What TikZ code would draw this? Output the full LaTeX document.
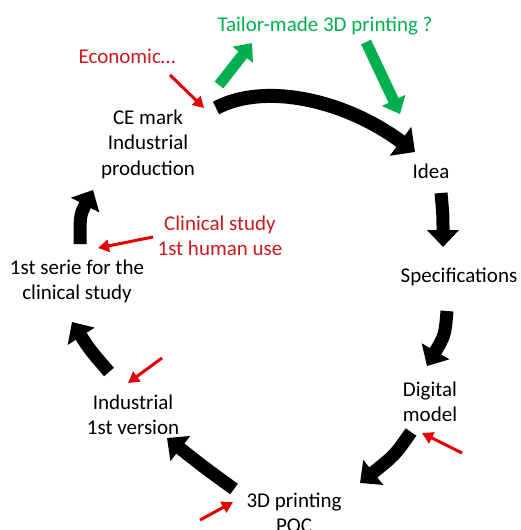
\documentclass[tikz,border=0pt]{standalone}
\usepackage{fontspec}
\setmainfont{Carlito}
\usetikzlibrary{arrows.meta}
\definecolor{ogreen}{RGB}{0,176,80}
\definecolor{otxtred}{RGB}{200,25,30}
\definecolor{oarrred}{RGB}{228,0,0}
\newcommand\mlines[1]{\begin{tabular}[t]{@{}c@{}}#1\end{tabular}}
\begin{document}
\begin{tikzpicture}[x=1pt,y=-1pt,
  lbl/.style={inner sep=0pt, anchor=base, font=\fontsize{21}{25.5}\selectfont},
  blk/.style={draw=black, line width=13pt, -{Triangle[width=31pt,length=17pt]}},
  blkbig/.style={draw=black, line width=14pt, -{Triangle[width=35pt,length=18pt]}},
  grn/.style={draw=ogreen, line width=11pt, -{Triangle[width=25pt,length=15pt]}},
  rdar/.style={draw=oarrred, line width=3pt, -{Triangle[width=12pt,length=11pt]}}]
\useasboundingbox (0,0) rectangle (521,530);
% labels
\node[lbl, text=ogreen] (tailor) at (325,31) {Tailor-made 3D printing ?};
\node[lbl, text=otxtred] (econ) at (127,63) {Economic\ldots};
\node[lbl] (ce) at (148,124) {\mlines{CE mark\\Industrial\\production}};
\node[lbl] (idea) at (431,178) {Idea};
\node[lbl, text=otxtred] (clin) at (220,230) {\mlines{Clinical study\\1st human use}};
\node[lbl] (serie) at (77,274) {\mlines{1st serie for the\\clinical study}};
\node[lbl] (spec) at (459,282) {Specifications};
\node[lbl] (digi) at (430,396) {\mlines{Digital\\model}};
\node[lbl] (indus) at (133,409) {\mlines{Industrial\\1st version}};
\node[lbl] (print) at (294,507) {\mlines{3D printing\\POC}};
% arrow end points
\coordinate (a1s) at (216,108); \coordinate (a1e) at (415,152);
\coordinate (a2s) at (441,193); \coordinate (a2e) at (443,247);
\coordinate (a3s) at (447,311); \coordinate (a3e) at (427,366);
\coordinate (a4s) at (411,432); \coordinate (a4e) at (360,483);
\coordinate (a5s) at (234,489); \coordinate (a5e) at (167,438);
\coordinate (a6s) at (109,372); \coordinate (a6e) at (72,322);
\coordinate (a7s) at (80,244);  \coordinate (a7e) at (93,190);
% black cycle arrows
\draw[blkbig] (a1s) .. controls (265,82) and (345,100) .. (a1e);
\draw[blk] (a2s) .. controls (443,215) .. (a2e);
\draw[blk] (a3s) .. controls (445,335) .. (a3e);
\draw[blk] (a4s) .. controls (395,455) .. (a4e);
\draw[blk] (a5s) .. controls (205,468) .. (a5e);
\draw[blk] (a6s) .. controls (90,350) .. (a6e);
\draw[blk] (a7s) .. controls (80,215) .. (a7e);
% green arrows
\coordinate (g1s) at (219,85); \coordinate (g1e) at (252,43);
\coordinate (g2s) at (366,42); \coordinate (g2e) at (400,114);
\draw[grn] (g1s) -- (g1e);
\draw[grn] (g2s) -- (g2e);
% red arrows
\coordinate (r1s) at (170,75);  \coordinate (r1e) at (204,108);
\coordinate (r2s) at (153,237); \coordinate (r2e) at (98,248);
\coordinate (r3s) at (162,358); \coordinate (r3e) at (128,383);
\coordinate (r4s) at (462,453); \coordinate (r4e) at (422,433);
\coordinate (r5s) at (200,520); \coordinate (r5e) at (233,502);
\draw[rdar] (r1s) -- (r1e);
\draw[rdar] (r2s) -- (r2e);
\draw[rdar] (r3s) -- (r3e);
\draw[rdar] (r4s) -- (r4e);
\draw[rdar] (r5s) -- (r5e);
\end{tikzpicture}
\end{document}
